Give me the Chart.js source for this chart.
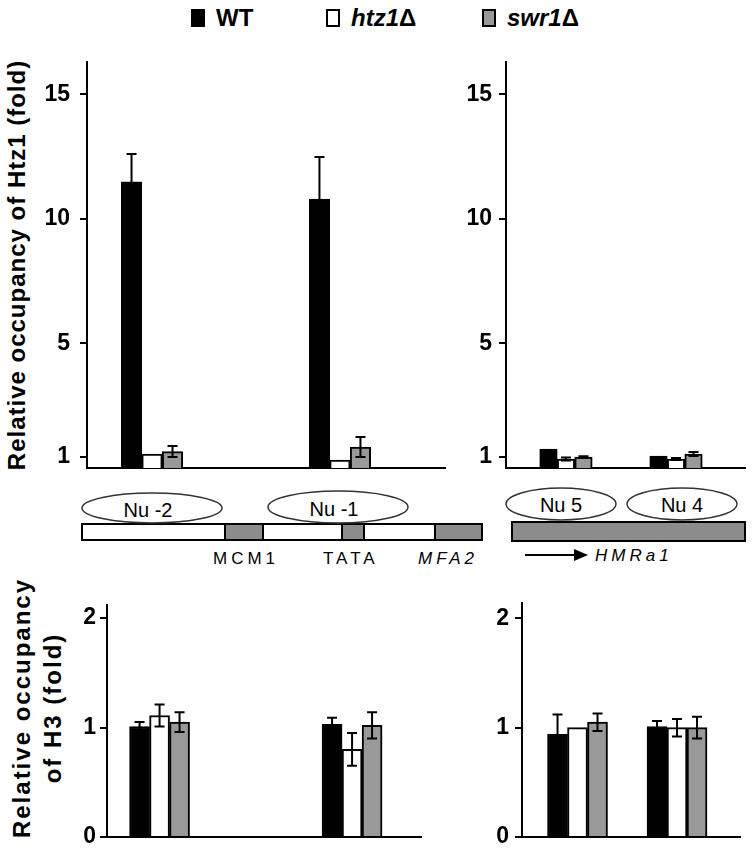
<!DOCTYPE html>
<html lang="en">
<head>
<meta charset="UTF-8">
<title>Htz1 / H3 occupancy</title>
<script src="https://cdn.jsdelivr.net/npm/chart.js"></script>
<style>
    html, body { margin: 0; padding: 0; background: #fff; overflow: hidden; }
    #pagina { position: relative; width: 755px; height: 857px; overflow: hidden;
              font-family: Arial, "Liberation Sans", sans-serif; color: #000; }
    canvas { position: absolute; }
    .legenda { position: absolute; top: 4px; font-size: 24px; font-weight: bold; line-height: 27px; white-space: nowrap; }
    .quadrado { display: inline-block; width: 10px; height: 14px; border: 2px solid #000; vertical-align: -1px; margin-right: 11px; }
    .titulo { position: absolute; font-size: 24px; font-weight: bold; text-align: center; white-space: nowrap;
              transform: rotate(-90deg); }
    svg { position: absolute; left: 0; top: 0; }
</style>
</head>
<body>
<div id="pagina">

    <div class="legenda" style="left:191px"><span class="quadrado" style="background:#000"></span>WT</div>
    <div class="legenda" style="left:326px"><span class="quadrado" style="background:#fff"></span><i>htz1</i>&#916;</div>
    <div class="legenda" style="left:482px"><span class="quadrado" style="background:#999"></span><i>swr1</i>&#916;</div>

    <div class="titulo" style="left:-213px; top:251px; width:460px; line-height:28px; letter-spacing:1px;">Relative occupancy of Htz1 (fold)</div>
    <div class="titulo" style="left:-113px; top:677px; width:300px; line-height:31px; letter-spacing:2px;">Relative occupancy<br>of H3 (fold)</div>

    <!-- esquemas dos promotores -->
    <svg width="755" height="857">
        <g stroke="#000" stroke-width="2">
            <rect x="82" y="524" width="143" height="16" fill="#fff"/>
            <rect x="225" y="524" width="38" height="16" fill="#8c8c8c"/>
            <rect x="263" y="524" width="79" height="16" fill="#fff"/>
            <rect x="342" y="524" width="22" height="16" fill="#8c8c8c"/>
            <rect x="364" y="524" width="71" height="16" fill="#fff"/>
            <rect x="435" y="524" width="47" height="16" fill="#8c8c8c"/>
            <rect x="512" y="522" width="233" height="19" fill="#8c8c8c"/>
        </g>
        <g stroke="#333" stroke-width="1.5" fill="#fff">
            <ellipse cx="152" cy="508" rx="70" ry="15"/>
            <ellipse cx="338" cy="507" rx="70" ry="16"/>
            <ellipse cx="561" cy="504" rx="55" ry="16"/>
            <ellipse cx="682" cy="504" rx="55" ry="16"/>
        </g>
        <g font-family="Arial, Liberation Sans, sans-serif" font-size="20" text-anchor="middle">
            <text x="148" y="517">Nu -2</text>
            <text x="334" y="516">Nu -1</text>
            <text x="561" y="512">Nu 5</text>
            <text x="682" y="512">Nu 4</text>
        </g>
        <g font-family="Arial, Liberation Sans, sans-serif" font-size="17" letter-spacing="4">
            <text x="213" y="564">MCM1</text>
            <text x="323" y="564">TATA</text>
            <text x="418" y="564" font-style="italic">MFA2</text>
            <text x="595" y="561" font-style="italic">HMRa1</text>
        </g>
        <line x1="525" y1="555" x2="582" y2="555" stroke="#000" stroke-width="2"/>
        <path d="M574,549 L588,555 L574,561 Z" fill="#000"/>
    </svg>

    <canvas id="grafico_htz1_mfa2" width="475" height="466" style="left:0px; top:32px"></canvas>
    <canvas id="grafico_htz1_hmr" width="329" height="466" style="left:446px; top:32px"></canvas>
    <canvas id="grafico_h3_mfa2" width="404" height="292" style="left:47px; top:575px"></canvas>
    <canvas id="grafico_h3_hmr" width="308" height="294" style="left:462px; top:573px"></canvas>
</div>

<script>

// categorias e series
const categorias_mfa2 = ['Nu -2', 'Nu -1'];
const categorias_hmr = ['Nu 5', 'Nu 4'];
const series = ['WT', 'htz1Δ', 'swr1Δ'];
const cores = ['#000000', '#ffffff', '#999999'];

// Htz1 - MFA2
const htz1_mfa2_wt = [11.49, 10.8];
const htz1_mfa2_htz1 = [0.56, 0.32];
const htz1_mfa2_swr1 = [0.66, 0.84];
const htz1_mfa2_wt_erro = [1.12, 1.69];
const htz1_mfa2_htz1_erro = [0, 0];
const htz1_mfa2_swr1_erro = [0.22, 0.4];

// Htz1 - HMRa1
const htz1_hmr_wt = [0.76, 0.48];
const htz1_hmr_htz1 = [0.36, 0.36];
const htz1_hmr_swr1 = [0.44, 0.56];
const htz1_hmr_wt_erro = [0, 0];
const htz1_hmr_htz1_erro = [0.06, 0.04];
const htz1_hmr_swr1_erro = [0.03, 0.08];

// H3 - MFA2
const h3_mfa2_wt = [1.01, 1.03];
const h3_mfa2_htz1 = [1.11, 0.8];
const h3_mfa2_swr1 = [1.05, 1.02];
const h3_mfa2_wt_erro = [0.04, 0.06];
const h3_mfa2_htz1_erro = [0.1, 0.15];
const h3_mfa2_swr1_erro = [0.09, 0.12];

// H3 - HMRa1
const h3_hmr_wt = [0.94, 1.01];
const h3_hmr_htz1 = [1.0, 1.0];
const h3_hmr_swr1 = [1.05, 1.0];
const h3_hmr_wt_erro = [0.18, 0.05];
const h3_hmr_htz1_erro = [0, 0.08];
const h3_hmr_swr1_erro = [0.08, 0.1];

// ticks do eixo y
const ticks_htz1_valores = [0.44, 5, 10, 15];
const ticks_htz1_rotulos = ['1', '5', '10', '15'];
const ticks_h3_valores = [0, 1, 2];
const ticks_h3_rotulos = ['0', '1', '2'];


// barras de erro desenhadas depois das barras
const barrasErro = {
    id: 'barrasErro',
    afterDatasetsDraw(chart) {
        var ctx = chart.ctx;
        var eixoY = chart.scales.y;
        chart.data.datasets.forEach(function (ds, d) {
            var meta = chart.getDatasetMeta(d);
            meta.data.forEach(function (barra, i) {
                var e = ds.erros[i];
                if (!e) return;
                var v = ds.data[i].y;
                var yCima = eixoY.getPixelForValue(v + e);
                var yBaixo = eixoY.getPixelForValue(v - e);
                ctx.save();
                ctx.strokeStyle = '#000';
                ctx.lineWidth = 2;
                ctx.beginPath();
                ctx.moveTo(barra.x, yCima);
                ctx.lineTo(barra.x, yBaixo);
                ctx.moveTo(barra.x - 5, yCima);
                ctx.lineTo(barra.x + 5, yCima);
                ctx.moveTo(barra.x - 5, yBaixo);
                ctx.lineTo(barra.x + 5, yBaixo);
                ctx.stroke();
                ctx.restore();
            });
        });
    }
};

function pontos(valores) {
    return valores.map(function (v, i) { return { x: i + 1, y: v }; });
}

function montaGrafico(id, categorias, valores, erros, eixo) {
    var datasets = series.map(function (nome, s) {
        return {
            label: nome,
            data: pontos(valores[s]),
            erros: erros[s],
            backgroundColor: cores[s],
            borderColor: '#000',
            borderWidth: 2,
            barThickness: eixo.largura,
            grouped: true
        };
    });

    return new Chart(document.getElementById(id), {
        type: 'bar',
        data: { labels: categorias, datasets: datasets },
        plugins: [barrasErro],
        options: {
            responsive: false,
            animation: false,
            layout: { padding: { top: 30, right: 30, bottom: 30, left: 0 } },
            plugins: { legend: { display: false }, tooltip: { enabled: false } },
            scales: {
                x: {
                    type: 'linear',
                    min: eixo.xMin,
                    max: eixo.xMax,
                    afterBuildTicks: function (s) { s.ticks = []; },
                    afterFit: function (s) { s.height = 0; },
                    ticks: { display: false },
                    grid: { display: false },
                    border: { display: true, color: '#000', width: 2 }
                },
                y: {
                    type: 'linear',
                    min: 0,
                    max: eixo.yMax,
                    afterBuildTicks: function (s) {
                        s.ticks = eixo.ticks.map(function (v) { return { value: v }; });
                    },
                    afterFit: function (s) { s.width = eixo.larguraY; },
                    ticks: {
                        autoSkip: false,
                        padding: eixo.pad,
                        color: '#000',
                        font: { family: 'Arial, "Liberation Sans", sans-serif', size: 23, weight: 'bold' },
                        callback: function (v, i) { return eixo.rotulos[i]; }
                    },
                    grid: { drawOnChartArea: false, drawTicks: true, tickLength: 7, color: '#000', lineWidth: 2 },
                    border: { display: true, color: '#000', width: 2 }
                }
            }
        }
    });
}

montaGrafico('grafico_htz1_mfa2', categorias_mfa2,
    [htz1_mfa2_wt, htz1_mfa2_htz1, htz1_mfa2_swr1],
    [htz1_mfa2_wt_erro, htz1_mfa2_htz1_erro, htz1_mfa2_swr1_erro],
    { xMin: 0.654, xMax: 2.559, yMax: 16.3, largura: 20.5, larguraY: 87, pad: 10,
      ticks: ticks_htz1_valores, rotulos: ticks_htz1_rotulos });

montaGrafico('grafico_htz1_hmr', categorias_hmr,
    [htz1_hmr_wt, htz1_hmr_htz1, htz1_hmr_swr1],
    [htz1_hmr_wt_erro, htz1_hmr_htz1_erro, htz1_hmr_swr1_erro],
    { xMin: 0.455, xMax: 2.627, yMax: 16.3, largura: 17.5, larguraY: 60, pad: 7,
      ticks: ticks_htz1_valores, rotulos: ticks_htz1_rotulos });

montaGrafico('grafico_h3_mfa2', categorias_mfa2,
    [h3_mfa2_wt, h3_mfa2_htz1, h3_mfa2_swr1],
    [h3_mfa2_wt_erro, h3_mfa2_htz1_erro, h3_mfa2_swr1_erro],
    { xMin: 0.727, xMax: 2.358, yMax: 2.12, largura: 20, larguraY: 60, pad: 4,
      ticks: ticks_h3_valores, rotulos: ticks_h3_rotulos });

montaGrafico('grafico_h3_hmr', categorias_hmr,
    [h3_hmr_wt, h3_hmr_htz1, h3_hmr_swr1],
    [h3_hmr_wt_erro, h3_hmr_htz1_erro, h3_hmr_swr1_erro],
    { xMin: 0.442, xMax: 2.633, yMax: 2.14, largura: 20, larguraY: 60, pad: 6,
      ticks: ticks_h3_valores, rotulos: ticks_h3_rotulos });

</script>
</body>
</html>
